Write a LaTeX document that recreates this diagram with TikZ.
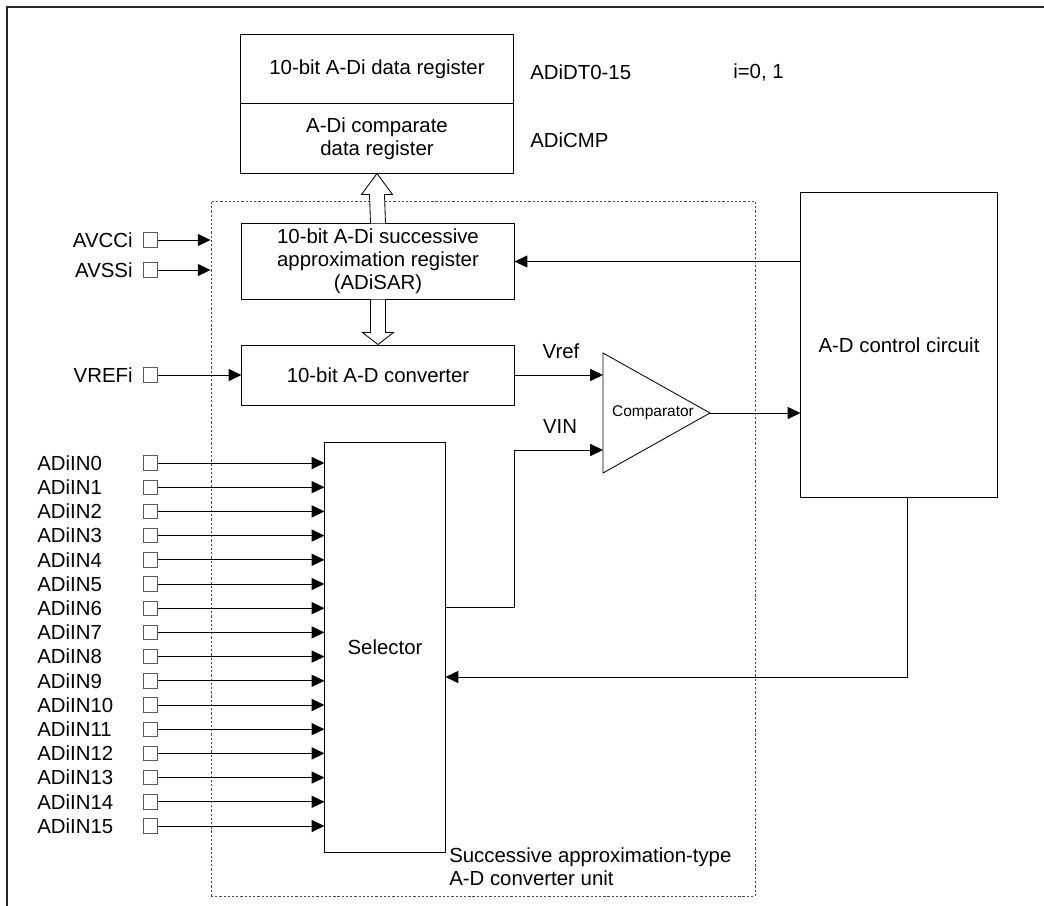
\documentclass[tikz,border=0pt]{standalone}
\usepackage{fontspec}
\setmainfont{Liberation Sans}
\usepackage{tikz}
\usetikzlibrary{positioning, arrows.meta, calc}

\begin{document}
\begin{tikzpicture}[
            x=0.025cm, y=-0.025cm,
            % --- Styles for the nodes ---
            block/.style={
                draw, line width=0.7pt, rectangle, inner sep=2pt, align=center,
                font=\fontsize{14.5}{16.5}\selectfont
            },
            pinbox/.style={draw=black!65, line width=0.6pt, rectangle, minimum size=0.36cm, inner sep=0pt},
            pinlabel/.style={font=\fontsize{14.5}{16.5}\selectfont, inner sep=0pt},
            label_style/.style={font=\fontsize{14.5}{16.5}\selectfont, inner sep=0pt, align=left},
            unitbox/.style={draw=black!70, line width=0.5pt, dash pattern=on 1.6pt off 1.4pt},
            sig/.style={line width=0.7pt, -{Triangle[length=3.2mm, width=3mm]}},
            bus/.style={draw, line width=0.6pt, fill=white, line join=miter}
        ]

        \useasboundingbox (0,0) rectangle (1044,906);

        % --- Outer frame ---
        \draw[line width=0.9pt, black!85] (1044,7) -- (7,7) -- (7,906);

        % --- Converter unit (dotted) ---
        \node[unitbox, minimum width=13.6cm, minimum height=17.375cm] (unit) at (483,548.5) {};
        \node[label_style, anchor=west] (unittext) at (449,867)
            {Successive approximation-type\\A-D converter unit};

        % --- Registers ---
        \node[block, minimum width=6.8cm, minimum height=1.7cm] (dtreg) at (377,69) {10-bit A-Di data register};
        \node[block, minimum width=6.8cm, minimum height=1.725cm, below=0pt of dtreg] (cmpreg)
            {A-Di comparate\\data register};
        \node[label_style, anchor=west] (dtname) at (530,72) {ADiDT0-15};
        \node[label_style, anchor=west] (cmpname) at (530,140) {ADiCMP};
        \node[label_style, anchor=west] (inote) at (733,72) {i=0, 1};

        \node[block, minimum width=6.8cm, minimum height=1.875cm] (sar) at (378,261.5)
            {10-bit A-Di successive\\approximation register\\(ADiSAR)};
        \node[block, minimum width=6.8cm, minimum height=1.5cm] (conv) at (378,375) {10-bit A-D converter};

        % --- Selector and control circuit ---
        \node[block, minimum width=3cm, minimum height=10.225cm] (sel) at (385,647.5) {Selector};
        \node[block, minimum width=4.9cm, minimum height=7.6cm] (ctrl) at (899,345) {A-D control circuit};

        % --- Comparator ---
        \coordinate (cmpvref) at (603,375);
        \coordinate (cmpvin) at (603,450);
        \coordinate (cmpout) at (710,413);
        \draw[line width=0.6pt] (603,353) -- (cmpout) -- (603,473) -- cycle;
        \node[font=\fontsize{11}{12}\selectfont, inner sep=0pt] (cmptext) at (653,413) {Comparator};

        % --- Bus arrows ---
        \draw[bus] ($(sar.north)+(-7.5,0)$) -- ($(cmpreg.south)+(-7.5,21)$) -- ($(cmpreg.south)+(-15.5,21)$)
            -- (cmpreg.south) -- ($(cmpreg.south)+(15.5,21)$) -- ($(cmpreg.south)+(7.5,21)$)
            -- ($(sar.north)+(7.5,0)$);
        \draw[bus] ($(sar.south)+(-7.5,0)$) -- ($(conv.north)+(-7.5,-12)$) -- ($(conv.north)+(-15.5,-12)$)
            -- (conv.north) -- ($(conv.north)+(15.5,-12)$) -- ($(conv.north)+(7.5,-12)$)
            -- ($(sar.south)+(7.5,0)$);

        % --- Supply and reference pins ---
        \node[pinbox] (avcc) at (150.5,240) {};
        \node[pinlabel, left=0.25cm of avcc] (avcclabel) {AVCCi};
        \node[pinbox] (avss) at (150.5,270) {};
        \node[pinlabel, left=0.25cm of avss] (avsslabel) {AVSSi};
        \node[pinbox] (vref) at (150.5,375) {};
        \node[pinlabel, left=0.25cm of vref] (vreflabel) {VREFi};
        \draw[sig] (avcc) -- (avcc -| unit.west);
        \draw[sig] (avss) -- (avss -| unit.west);
        \draw[sig] (vref) -- (conv.west);

        % --- Analog inputs using a loop ---
        \foreach \i in {0,...,15} {
            \node[pinbox] (in\i) at (150.5, 463+24.2*\i) {};
            \node[pinlabel, anchor=west] (inlabel\i) at (37, 463+24.2*\i) {ADiIN\i};
            \draw[sig] (in\i) -- (in\i -| sel.west);
        }

        % --- Signal paths ---
        \draw[sig] (conv.east) -- (cmpvref);
        \node[label_style] (vreftext) at (561,351) {Vref};
        \draw[sig] (sel.east |- {(0,607)}) -- (514,607) -- (514,450) -- (cmpvin);
        \node[label_style] (vintext) at (560,426) {VIN};
        \draw[sig] (cmpout) -- (cmpout -| ctrl.west);
        \draw[sig] (ctrl.west |- sar.east) -- (sar.east);
        \coordinate (fb) at (907,677);
        \draw[sig] (fb |- ctrl.south) -- (fb) -- (fb -| sel.east);

        \end{tikzpicture}
\end{document}
